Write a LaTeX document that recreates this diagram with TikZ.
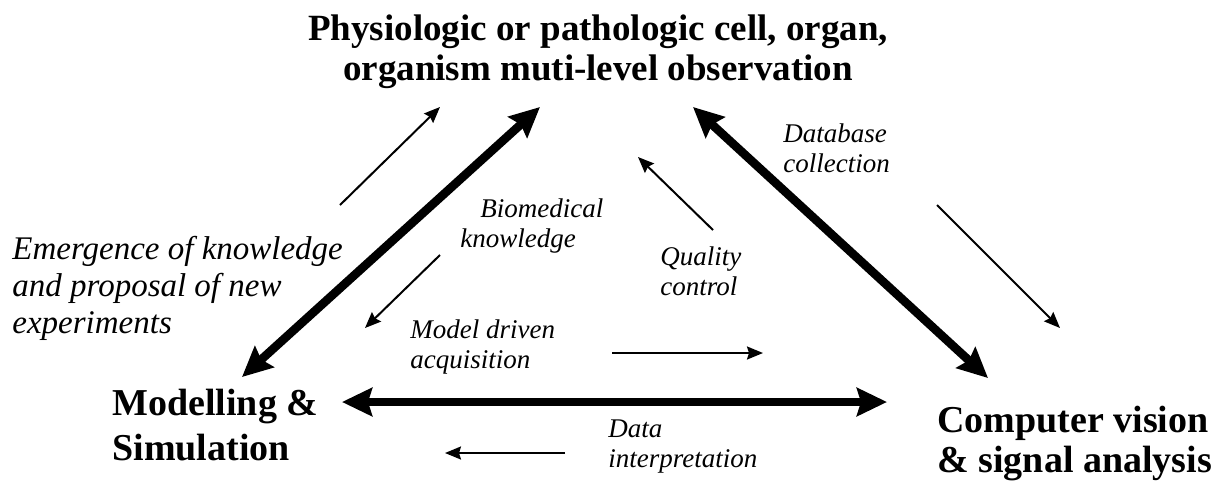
\documentclass[tikz,border=0pt]{standalone}
\usepackage{fontspec}
\setmainfont{Liberation Serif}
\usetikzlibrary{arrows.meta}

\begin{document}
\begin{tikzpicture}[x=0.5pt,y=-0.5pt,
	heading/.style={font=\bfseries\fontsize{18.5}{20}\selectfont,align=center,inner sep=0pt},
	pole/.style={font=\bfseries\fontsize{19}{22.5}\selectfont,align=left,inner sep=0pt},
	note/.style={font=\itshape\fontsize{13.5}{15}\selectfont,align=left,inner sep=0pt},
	bigarrow/.style={line width=4.3pt,{Stealth[length=15pt,width=14pt,inset=2pt]}-{Stealth[length=15pt,width=14pt,inset=2pt]}},
	smallarrow/.style={line width=1pt,-{Stealth[length=8pt,width=6.5pt,inset=1pt]}}]
	\useasboundingbox (0,0) rectangle (1227,484);
	
	% texts, anchored at the baseline of their last line
	\node[heading,anchor=base] (obs) at (598,80) {Physiologic or pathologic cell, organ,\\organism muti-level observation};
	\node[pole,anchor=base west] (model) at (112,460) {Modelling \&\\Simulation};
	\node[pole,font=\bfseries\fontsize{19}{20}\selectfont,anchor=base west] (vision) at (937,472) {Computer vision\\\& signal analysis};
	
	\node[note,font=\itshape\fontsize{16.5}{18.5}\selectfont,anchor=base west] (emerg) at (12,333) {Emergence of knowledge\\and proposal of new\\experiments};
	\node[note,anchor=base west] (bio) at (460,247) {\hspace{10pt}Biomedical\\knowledge};
	\node[note,anchor=base west] (qual) at (660,295) {Quality\\control};
	\node[note,anchor=base west] (drive) at (410,368) {Model driven\\acquisition};
	\node[note,anchor=base west] (interp) at (608,467) {Data\\interpretation};
	\node[note,anchor=base west] (dbase) at (783,172) {Database\\collection};
	
	\coordinate (msTop) at (242,377); \coordinate (obsL) at (540,107);
	\coordinate (cvTop) at (988,378); \coordinate (obsR) at (693,107);
	\coordinate (msSide) at (342,402); \coordinate (cvSide) at (887,402);
	
	\draw[bigarrow] (msTop) -- (obsL);
	\draw[bigarrow] (obsR) -- (cvTop);
	\draw[bigarrow] (msSide) -- (cvSide);
	
	\coordinate (emS) at (340,205); \coordinate (emE) at (440,107);
	\coordinate (bioS) at (440,255); \coordinate (bioE) at (365,328);
	\coordinate (qcS) at (713,230); \coordinate (qcE) at (638,157);
	\coordinate (dbS) at (937,205); \coordinate (dbE) at (1060,328);
	\coordinate (mdS) at (612,353); \coordinate (mdE) at (763,353);
	\coordinate (diS) at (565,453); \coordinate (diE) at (445,453);
	
	\draw[smallarrow] (emS) -- (emE);
	\draw[smallarrow] (bioS) -- (bioE);
	\draw[smallarrow] (qcS) -- (qcE);
	\draw[smallarrow] (dbS) -- (dbE);
	\draw[smallarrow] (mdS) -- (mdE);
	\draw[smallarrow] (diS) -- (diE);
\end{tikzpicture}
\end{document}
